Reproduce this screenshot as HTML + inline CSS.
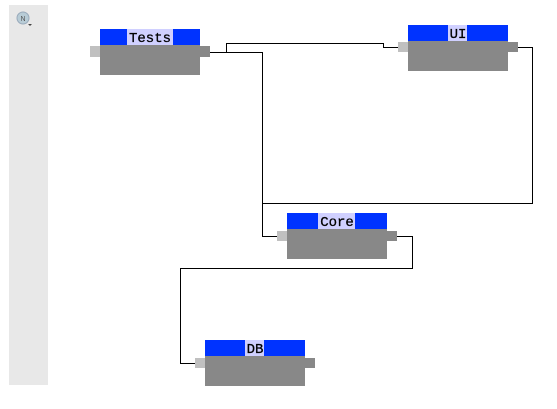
<!DOCTYPE html>
<html><head><style>
body{margin:0;background:#fff;width:557px;height:409px;overflow:hidden}
svg{display:block}
text{font-family:"Liberation Mono",monospace;font-size:14px;fill:#000}
</style></head><body>
<svg width="557" height="409" xmlns="http://www.w3.org/2000/svg">
<rect x="9" y="5" width="39" height="380" fill="#e8e8e8"/>
<circle cx="23" cy="18" r="6" fill="#b8ccd6" stroke="#9ab" stroke-width="1"/>
<text x="23" y="21" text-anchor="middle" fill="#555" style="font-family:'Liberation Sans',sans-serif;font-size:7px;fill:#555">N</text>
<path d="M28 24 L32 24 L30 26 Z" fill="#444"/>
<g fill="none" stroke="#000" stroke-width="1">
<polyline points="210,52.5 226.5,52.5 226.5,43.5 383.5,43.5 383.5,47.5 398,47.5"/>
<polyline points="210,52.5 262.5,52.5 262.5,236.5 277,236.5"/>
<polyline points="518,47.5 532.5,47.5 532.5,203.5 262.5,203.5"/>
<polyline points="397,236.5 412.5,236.5 412.5,268.5 180.5,268.5 180.5,363.5 195,363.5"/>
</g>
<g>
<rect x="90" y="46" width="10" height="11" fill="#c0c0c0"/>
<rect x="200" y="46" width="10" height="11" fill="#888"/>
<rect x="100" y="29" width="100" height="16" fill="#0033ff"/>
<rect x="100" y="45" width="100" height="30" fill="#888"/>
<rect x="127" y="29" width="46" height="16" fill="#d0d0ff"/>
<text x="150" y="42" text-anchor="middle" stroke="#000" stroke-width="0.3">Tests</text>
</g>
<g>
<rect x="398" y="42" width="10" height="10" fill="#c0c0c0"/>
<rect x="508" y="42" width="10" height="10" fill="#888"/>
<rect x="408" y="25" width="100" height="16" fill="#0033ff"/>
<rect x="408" y="41" width="100" height="30" fill="#888"/>
<rect x="448" y="25" width="19" height="16" fill="#d0d0ff"/>
<text x="458" y="38" text-anchor="middle" stroke="#000" stroke-width="0.3">UI</text>
</g>
<g>
<rect x="277" y="231" width="10" height="10" fill="#c0c0c0"/>
<rect x="387" y="231" width="10" height="10" fill="#888"/>
<rect x="287" y="213" width="100" height="16" fill="#0033ff"/>
<rect x="287" y="229" width="100" height="30" fill="#888"/>
<rect x="318" y="213" width="37" height="16" fill="#d0d0ff"/>
<text x="337" y="226" text-anchor="middle" stroke="#000" stroke-width="0.3">Core</text>
</g>
<g>
<rect x="195" y="358" width="10" height="10" fill="#c0c0c0"/>
<rect x="305" y="358" width="10" height="10" fill="#888"/>
<rect x="205" y="340" width="100" height="16" fill="#0033ff"/>
<rect x="205" y="356" width="100" height="30" fill="#888"/>
<rect x="245" y="340" width="19" height="16" fill="#d0d0ff"/>
<text x="255" y="353" text-anchor="middle" stroke="#000" stroke-width="0.3">DB</text>
</g>
</svg>
</body></html>
